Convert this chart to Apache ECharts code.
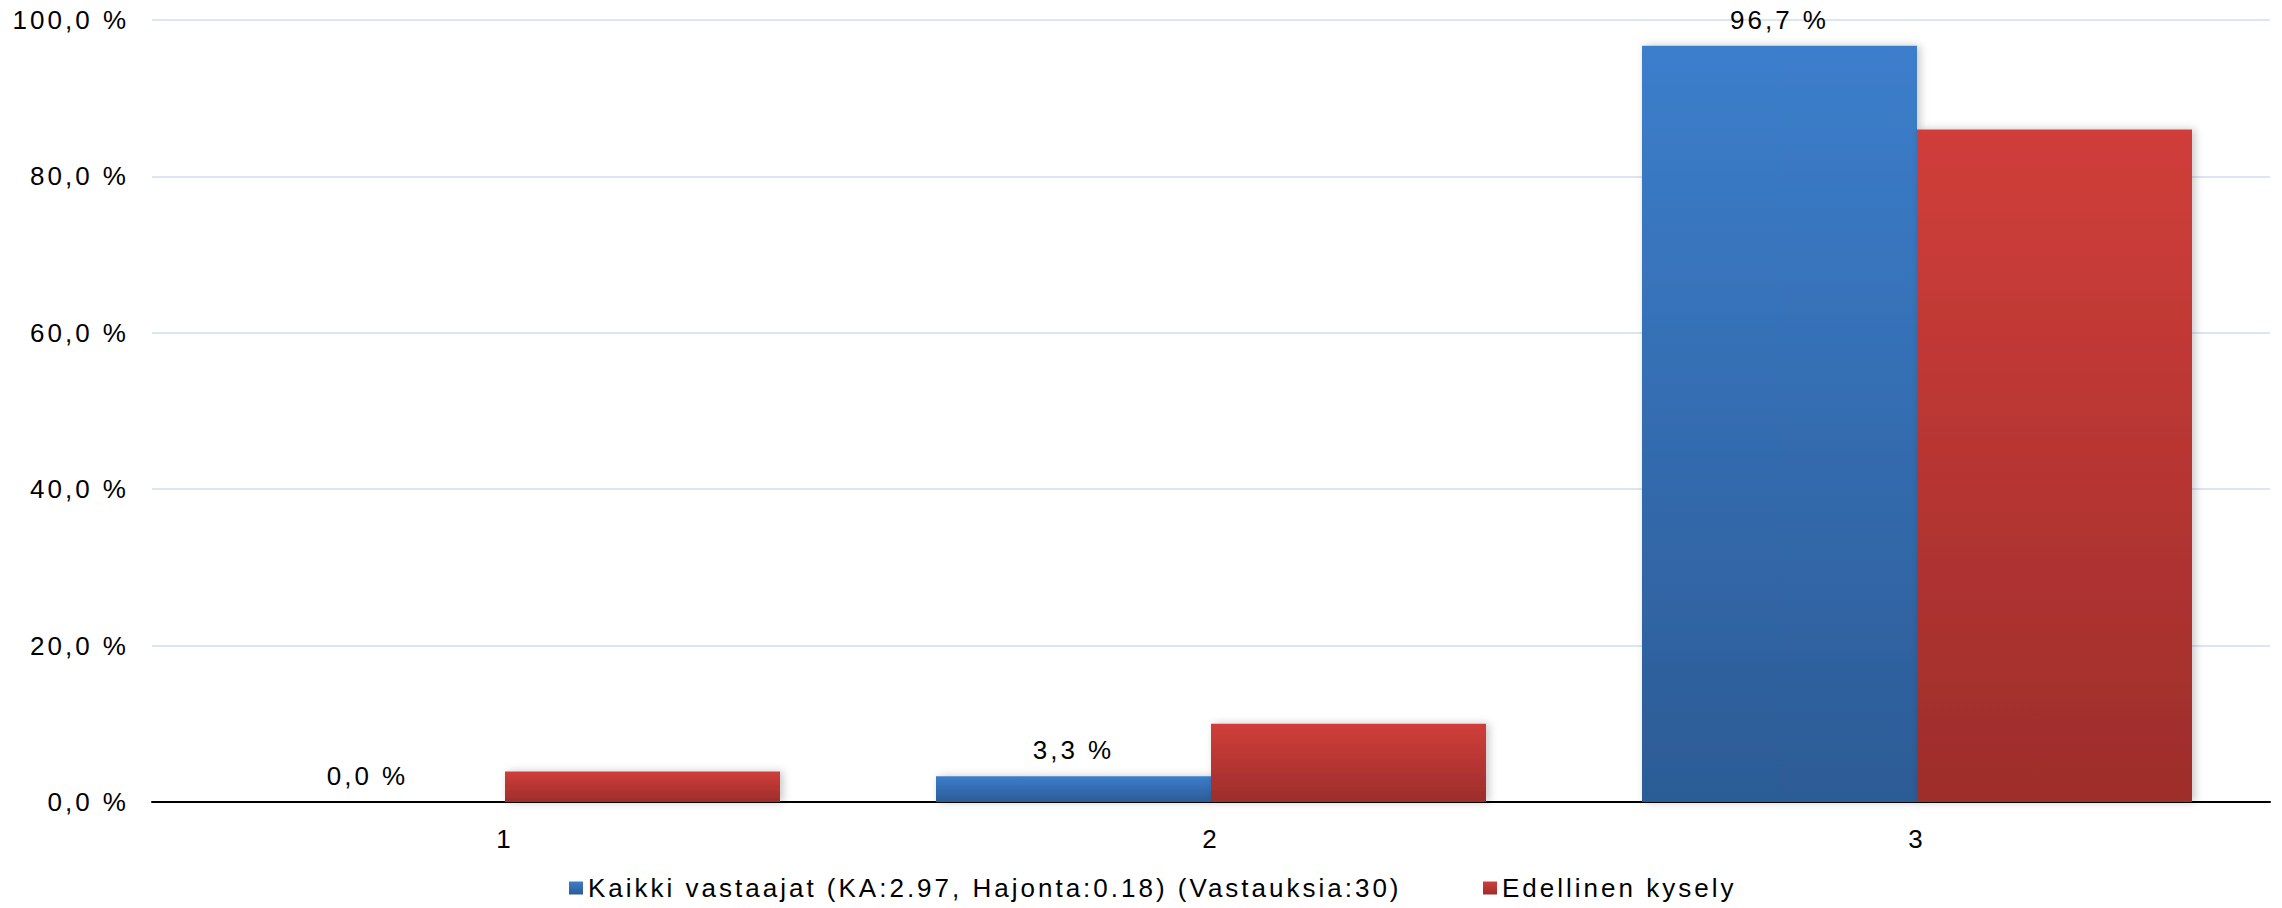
<!DOCTYPE html>
<html>
<head>
<meta charset="utf-8">
<script src="https://cdn.jsdelivr.net/npm/echarts@6/dist/echarts.min.js"></script>
<style>
  html, body { margin: 0; padding: 0; background: #fff; }
  #main { width: 2282px; height: 908px; }
  /* source chart has loose letter spacing on every text */
  #main text { letter-spacing: 3px; }
</style>
</head>
<body>
<div id="main"></div>
<script>
// kategoriat ja sarjat
const categories = ['1', '2', '3']
const seriesNames = ['Kaikki vastaajat (KA:2.97, Hajonta:0.18) (Vastauksia:30)', 'Edellinen kysely']
const allRespondents = [0.0, 3.3, 96.7]
const previousSurvey = [3.9, 10.0, 86.0]

const FONT = 'Liberation Sans, Arial, sans-serif'
const TXT = '#000'

// suomalainen muoto: 96,7 %
function pct(v) {
  return Number(v).toFixed(1).replace('.', ',') + ' %'
}

function grad(top, bottom) {
  return new echarts.graphic.LinearGradient(0, 0, 0, 1, [
    { offset: 0, color: top },
    { offset: 1, color: bottom }
  ])
}

const chart = echarts.init(document.getElementById('main'), null, { renderer: 'svg' })

const option = {
  animation: false,
  backgroundColor: '#ffffff',
  textStyle: { fontFamily: FONT },
  grid: { left: 152, right: 12, top: 20, bottom: 106 },
  legend: [
    {
      data: [seriesNames[0]],
      left: 569, top: 875, padding: 0,
      icon: 'rect', itemWidth: 14, itemHeight: 13,
      textStyle: { fontSize: 26, color: TXT, fontFamily: FONT }
    },
    {
      data: [seriesNames[1]],
      left: 1483, top: 875, padding: 0,
      icon: 'rect', itemWidth: 14, itemHeight: 13,
      textStyle: { fontSize: 26, color: TXT, fontFamily: FONT }
    }
  ],
  xAxis: {
    type: 'category',
    data: categories,
    axisTick: { show: false },
    axisLine: { lineStyle: { color: '#000', width: 2 } },
    axisLabel: { fontSize: 26, color: TXT, margin: 24, fontFamily: FONT }
  },
  yAxis: {
    type: 'value',
    min: 0,
    max: 100,
    interval: 20,
    axisLine: { show: false },
    axisTick: { show: false },
    splitLine: { lineStyle: { color: '#dce6f2', width: 2 } },
    axisLabel: { fontSize: 26, color: TXT, margin: 23, fontFamily: FONT, formatter: pct }
  },
  series: [
    {
      name: seriesNames[0],
      type: 'bar',
      data: allRespondents,
      barWidth: 275,
      barGap: '0%',
      itemStyle: {
        color: grad('#3c7ecc', '#2c5b95'),
        shadowColor: 'rgba(0,0,0,0.22)',
        shadowBlur: 8,
        shadowOffsetX: 3
      },
      label: {
        show: true,
        position: 'top',
        distance: 13,
        fontSize: 26,
        color: TXT,
        fontFamily: FONT,
        formatter: p => pct(p.value)
      }
    },
    {
      name: seriesNames[1],
      type: 'bar',
      data: previousSurvey,
      barWidth: 275,
      barGap: '0%',
      itemStyle: {
        color: grad('#d03e3a', '#9d2d2b'),
        shadowColor: 'rgba(0,0,0,0.22)',
        shadowBlur: 8,
        shadowOffsetX: 3
      }
    }
  ]
}

chart.setOption(option)
</script>
</body>
</html>
